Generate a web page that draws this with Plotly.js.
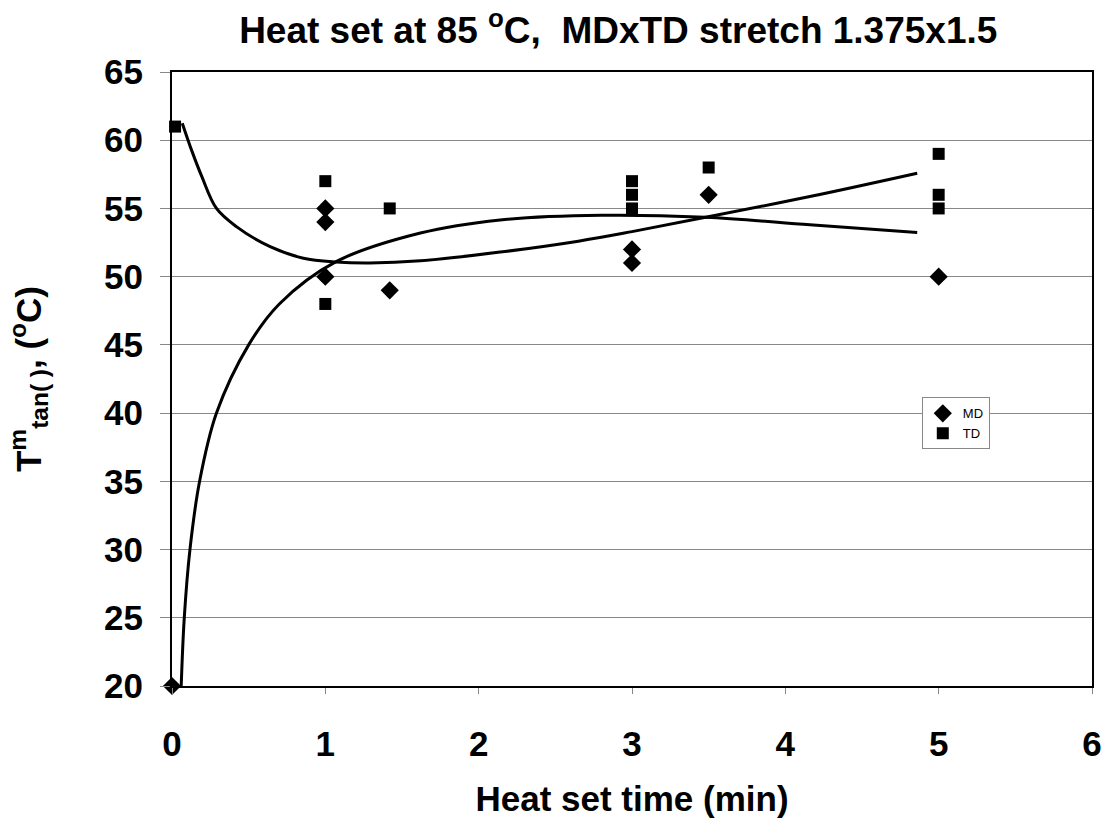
<!DOCTYPE html>
<html>
<head>
<meta charset="utf-8">
<script src="https://cdn.plot.ly/plotly-3.0.1.min.js"></script>
<style>html,body{margin:0;padding:0;background:#fff;}#chart{width:1110px;height:831px;}</style>
</head>
<body>
<div id="chart"></div>
<script>
// Measured data points
const mdX = [0, 1, 1, 1, 1.42, 3, 3, 3.5, 5];
const mdY = [20, 55, 54, 50, 49, 52, 51, 56, 50];
const tdX = [0.02, 1, 1, 1.42, 3, 3, 3, 3.5, 5, 5, 5];
const tdY = [61, 57, 48, 55, 57, 56, 55, 58, 59, 56, 55];

// Trend curves
const trendAX = [0.06, 0.08, 0.117, 0.18, 0.29, 0.50, 0.70, 1.07, 1.62, 2.14, 2.8, 3.48, 4.16, 4.86];
const trendAY = [20, 25, 30, 35, 40, 45, 48, 51.1, 53.2, 54.16, 54.5, 54.35, 53.8, 53.24];
const trendBX = [0.067, 0.13, 0.194, 0.29, 0.42, 0.64, 0.857, 1.07, 1.29, 1.62, 2.14, 2.65, 3.0, 3.48, 4.16, 4.86];
const trendBY = [61.25, 59.2, 57.35, 55.0, 53.67, 52.2, 51.35, 51.07, 51.0, 51.16, 51.8, 52.6, 53.3, 54.35, 55.87, 57.58];

const xTicks = [0, 1, 2, 3, 4, 5, 6];
const yTicks = [20, 25, 30, 35, 40, 45, 50, 55, 60, 65];

const font = "Liberation Sans, Arial, sans-serif";

const data = [
  {x: trendAX, y: trendAY, mode: 'lines', line: {color: '#000', width: 3, shape: 'spline', smoothing: 1}, showlegend: false, hoverinfo: 'skip'},
  {x: trendBX, y: trendBY, mode: 'lines', line: {color: '#000', width: 3, shape: 'spline', smoothing: 1}, showlegend: false, hoverinfo: 'skip'},
  {x: mdX, y: mdY, mode: 'markers', name: 'MD', marker: {symbol: 'diamond', size: 14, color: '#000'}, cliponaxis: false},
  {x: tdX, y: tdY, mode: 'markers', name: 'TD', marker: {symbol: 'square', size: 12, color: '#000'}, cliponaxis: false}
];

const layout = {
  width: 1110, height: 831,
  margin: {l: 172, r: 18, t: 72, b: 145},
  paper_bgcolor: '#fff', plot_bgcolor: '#fff',
  font: {family: font, color: '#000'},
  title: {text: '<b>Heat set at 85 <sup>o</sup>C,  MDxTD stretch 1.375x1.5</b>', font: {family: font, size: 37, color: '#000'}, x: 0.557, xanchor: 'center', y: 0.964, yanchor: 'middle'},
  xaxis: {
    range: [0, 6], tickvals: xTicks, ticktext: xTicks.map(String),
    showgrid: false, zeroline: false,
    showline: true, mirror: true, linecolor: '#000', linewidth: 2,
    ticks: 'outside', ticklen: 6, tickcolor: '#888', tickwidth: 1,
    ticklabelstandoff: 20,
    tickfont: {family: font, size: 35, color: '#000', weight: 'bold'},
    title: {text: '<b>Heat set time (min)</b>', font: {family: font, size: 35, color: '#000'}, standoff: 24}
  },
  yaxis: {
    range: [20, 65], tickvals: yTicks, ticktext: yTicks.map(String),
    showgrid: true, gridcolor: '#888', gridwidth: 1, zeroline: false,
    showline: true, mirror: true, linecolor: '#000', linewidth: 2,
    ticks: 'outside', ticklen: 10, tickcolor: '#888', tickwidth: 1,
    ticklabelstandoff: 10,
    tickfont: {family: font, size: 35, color: '#000', weight: 'bold'},
    title: {text: '<b>T<sup>m</sup><sub>tan( )</sub>, (<sup>o</sup>C)</b>', font: {family: font, size: 35, color: '#000'}, standoff: 52}
  },
  legend: {
    x: 0.815, y: 0.47, xanchor: 'left', yanchor: 'top',
    bgcolor: '#fff', bordercolor: '#888', borderwidth: 1,
    font: {family: font, size: 13, color: '#000'},
    itemwidth: 30, tracegroupgap: 0
  }
};

Plotly.newPlot('chart', data, layout, {displayModeBar: false, staticPlot: true});
</script>
</body>
</html>
